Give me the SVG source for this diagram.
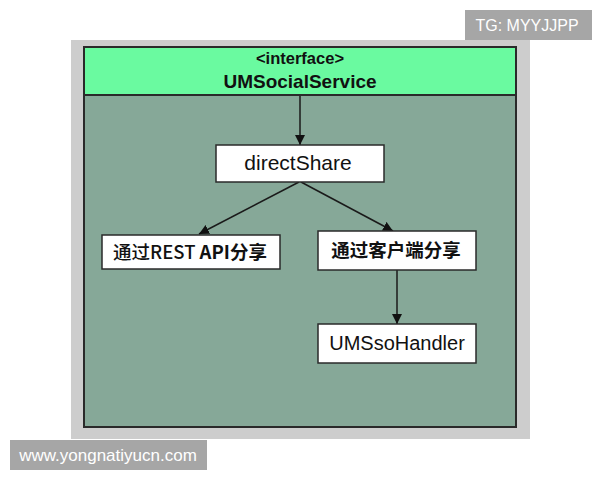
<svg xmlns="http://www.w3.org/2000/svg" width="600" height="480" viewBox="0 0 600 480">
<defs>
<style>
.box{fill:#ffffff;stroke:#2a2a2a;stroke-width:1.5}
.t{font-family:"Liberation Sans","Noto Sans CJK SC",sans-serif;fill:#111;text-anchor:middle}
.cn{font-family:"Noto Sans CJK SC","Liberation Sans",sans-serif;fill:#111;text-anchor:middle}
.edge{stroke:#1a1a1a;stroke-width:1.5;fill:none;marker-end:url(#arr)}
.wm{font-family:"Liberation Sans",sans-serif;fill:#ffffff}
</style>
<marker id="arr" viewBox="0 0 10 10" refX="10" refY="5" markerWidth="10" markerHeight="10" markerUnits="userSpaceOnUse" orient="auto">
<path d="M0,0 L10,5 L0,10 z" fill="#111"/>
</marker>
</defs>
<rect width="600" height="480" fill="#ffffff"/>
<rect x="71" y="40" width="459" height="399" fill="#cdcdcd"/>
<g id="UMSocialService">
<rect x="84" y="47" width="432" height="380" fill="#86a898" stroke="#2a2a2a" stroke-width="2"/>
<rect x="84" y="47" width="432" height="48" fill="#6afaa0" stroke="#2a2a2a" stroke-width="2"/>
<text class="t" x="300" y="64" font-size="16.5" font-weight="bold">&lt;interface&gt;</text>
<text class="t" x="300" y="88" font-size="19" font-weight="bold">UMSocialService</text>
</g>
<g id="connectors">
<line class="edge" x1="300" y1="96" x2="300" y2="145"/>
<line class="edge" x1="299" y1="182" x2="199" y2="234"/>
<line class="edge" x1="301" y1="182" x2="393" y2="231"/>
<line class="edge" x1="397" y1="270" x2="397" y2="324"/>
</g>
<g id="directShare">
<rect class="box" x="216" y="145" width="168" height="37"/>
<text class="t" x="298" y="170" font-size="21">directShare</text>
</g>
<g id="restShare">
<rect class="box" x="102" y="235" width="178" height="34"/>
<text class="cn" x="190" y="259" font-size="18.5"><tspan font-weight="500">通过REST </tspan><tspan font-weight="bold">API分享</tspan></text>
</g>
<g id="clientShare">
<rect class="box" x="318" y="231" width="158" height="39"/>
<text class="cn" x="396" y="257" font-size="18.5" font-weight="bold">通过客户端分享</text>
</g>
<g id="UMSsoHandler">
<rect class="box" x="318" y="324" width="158" height="39"/>
<text class="t" x="397" y="350" font-size="20">UMSsoHandler</text>
</g>
<rect x="465" y="10" width="127" height="30" fill="#a6a6a6"/>
<text class="wm" x="527" y="31" text-anchor="middle" font-size="16">TG: MYYJJPP</text>
<rect x="10" y="440" width="197" height="30" fill="#a6a6a6"/>
<text class="wm" x="108" y="461" text-anchor="middle" font-size="17">www.yongnatiyucn.com</text>
</svg>
